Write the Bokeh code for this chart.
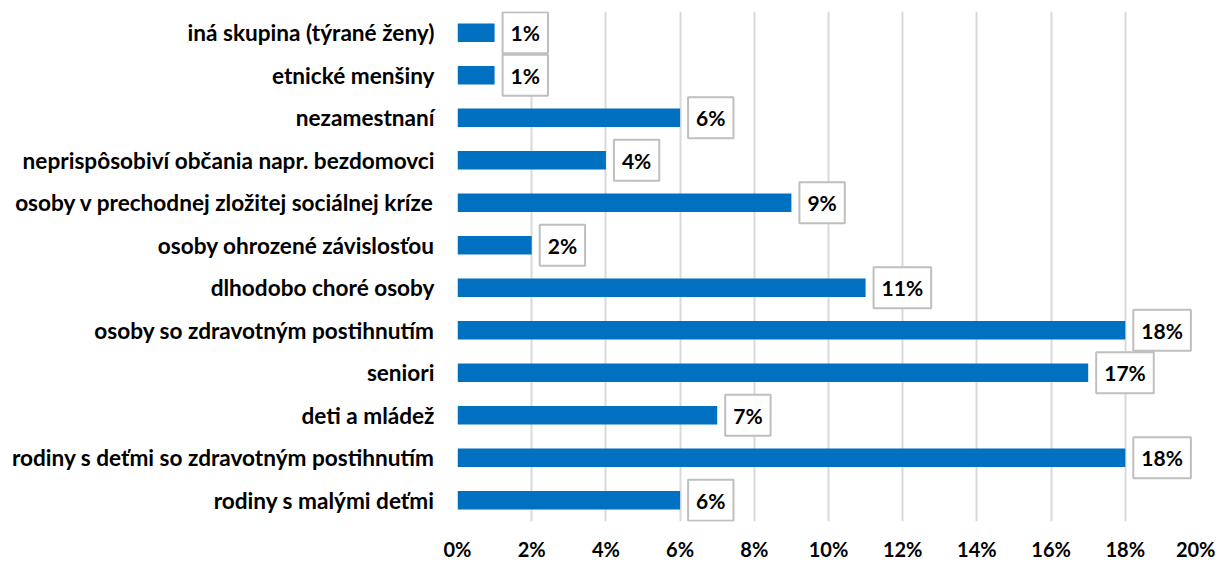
from bokeh.plotting import figure
from bokeh.models import ColumnDataSource, FactorRange, Range1d, NumeralTickFormatter, FixedTicker
from bokeh.core.properties import value
from bokeh.embed import file_html
from bokeh.resources import INLINE

categories = [
    "iná skupina (týrané ženy)",
    "etnické menšiny",
    "nezamestnaní",
    "neprispôsobiví občania napr. bezdomovci",
    "osoby v prechodnej zložitej sociálnej kríze",
    "osoby ohrozené závislosťou",
    "dlhodobo choré osoby",
    "osoby so zdravotným postihnutím",
    "seniori",
    "deti a mládež",
    "rodiny s deťmi so zdravotným postihnutím",
    "rodiny s malými deťmi",
]
values = [1, 1, 6, 4, 9, 2, 11, 18, 17, 7, 18, 6]
labels = [f"{v}%" for v in values]
x_ticks = [0, 2, 4, 6, 8, 10, 12, 14, 16, 18, 20]

FONT = "Lato"

src = ColumnDataSource(dict(cat=categories, v=[x / 100 for x in values], lbl=labels))

p = figure(
    width=1215, height=563,
    y_range=FactorRange(*categories[::-1]),
    x_range=Range1d(0, 0.20),
    output_backend="svg", toolbar_location=None,
    min_border_left=457, min_border_right=16, min_border_top=11, min_border_bottom=0,
)
p.outline_line_color = None
p.background_fill_color = "white"

p.hbar(y="cat", right="v", left=0, height=0.43, source=src, color="#0070C0", line_color=None)

p.text(x="v", y="cat", text="lbl", source=src, x_offset=8,
       text_font=value(FONT), text_font_style="bold", text_font_size="21px",
       text_color="black", text_align="left", text_baseline="middle",
       background_fill_color="white", border_line_color="#bfbfbf", border_line_width=2,
       padding=(8, 8))

p.xaxis.ticker = FixedTicker(ticks=[t / 100 for t in x_ticks])
p.xaxis.formatter = NumeralTickFormatter(format="0%")
p.xaxis.axis_line_color = None
p.xaxis.major_tick_line_color = None
p.xaxis.minor_tick_line_color = None
p.xaxis.major_label_standoff = 9
p.xaxis.major_label_text_font = FONT
p.xaxis.major_label_text_font_style = "bold"
p.xaxis.major_label_text_font_size = "20px"
p.xaxis.major_label_text_color = "black"

p.yaxis.axis_line_color = None
p.yaxis.major_tick_line_color = None
p.yaxis.minor_tick_line_color = None
p.yaxis.major_label_standoff = 17
p.yaxis.major_label_text_font = FONT
p.yaxis.major_label_text_font_style = "bold"
p.yaxis.major_label_text_font_size = "22.6px"
p.yaxis.major_label_text_color = "black"

p.xgrid.grid_line_color = "#d9d9d9"
p.xgrid.grid_line_width = 2
p.ygrid.grid_line_color = None

open("out.html", "w").write(file_html(p, INLINE))
